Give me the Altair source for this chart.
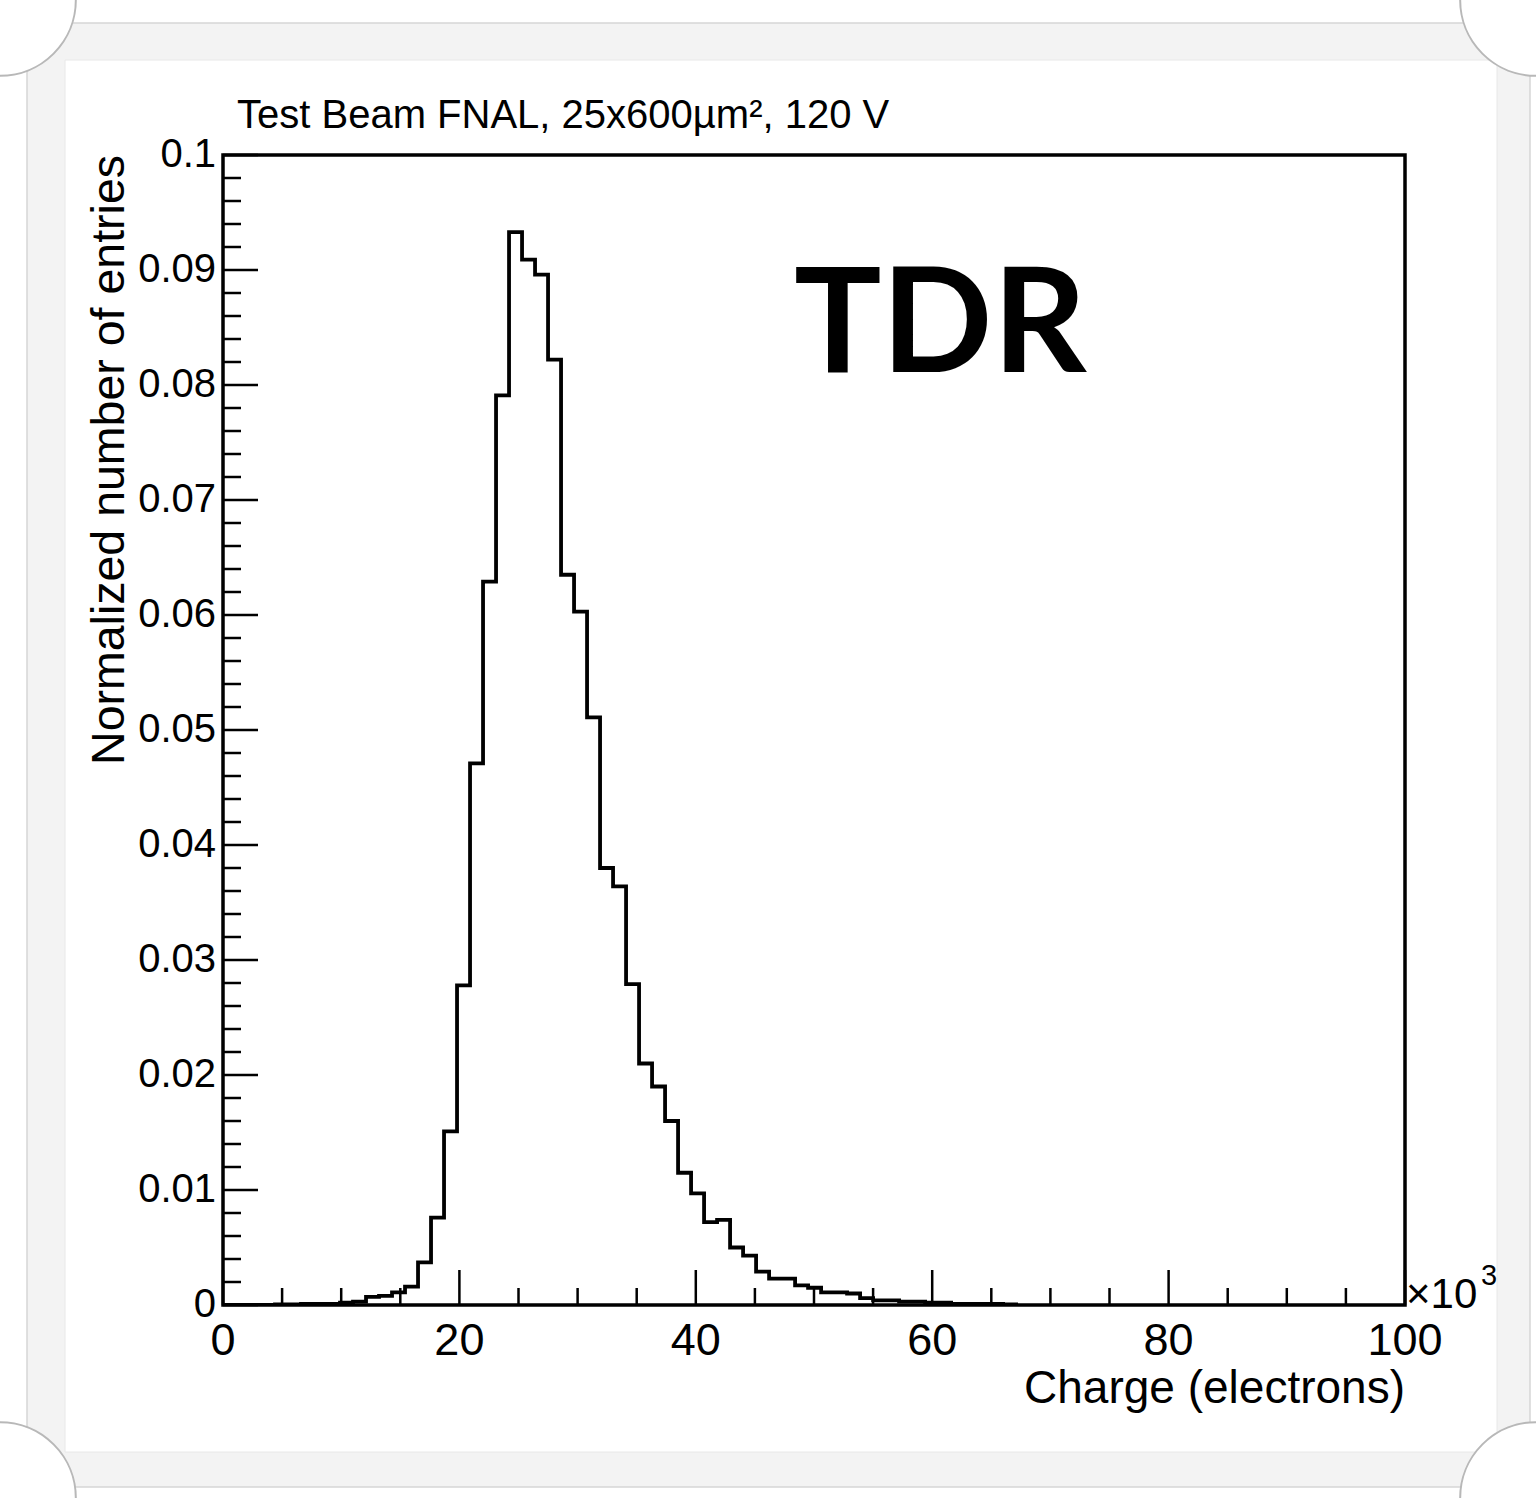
import altair as alt
import pandas as pd

# ---- data (charge in 10^3 electrons) ----
bin_width = 1.1
counts = [0, 0, 0, 0, 0.00005, 0.00005, 0.0001, 0.0001, 0.0001, 0.0002,
          0.0003, 0.0007, 0.0008, 0.0011, 0.0016, 0.0037, 0.0076, 0.0151, 0.0278, 0.0471,
          0.0629, 0.0791, 0.0933, 0.0909, 0.0896, 0.0822, 0.0635, 0.0603, 0.0511, 0.0380,
          0.0364, 0.0279, 0.0210, 0.0190, 0.0160, 0.0115, 0.0097, 0.0072, 0.0074, 0.0050,
          0.0043, 0.0029, 0.0023, 0.0023, 0.0017, 0.0015, 0.0011, 0.0011, 0.0010, 0.0006,
          0.0004, 0.0004, 0.0003, 0.0003, 0.0002, 0.0002, 0.0001, 0.0001, 0.0001, 0.0001,
          0.00005, 0]
x_labels = [0, 20, 40, 60, 80, 100]
x_minor = [5, 10, 15, 25, 30, 35, 45, 50, 55, 65, 70, 75, 85, 90, 95]
y_labels = [0, 0.01, 0.02, 0.03, 0.04, 0.05, 0.06, 0.07, 0.08, 0.09, 0.1]
y_minor = [round(i * 0.002, 3) for i in range(51) if i % 5]

title_text = "Test Beam FNAL, 25x600µm², 120 V"
x_title = "Charge (electrons)"
y_title = "Normalized number of entries"

W, H = 1182, 1150
FONT = "Liberation Sans"

edges = [round(bin_width * k, 3) for k in range(len(counts))]
hist = pd.DataFrame({"charge": edges, "frac": counts})

xs = alt.Scale(domain=[0, 100], nice=False, zero=False)
ys = alt.Scale(domain=[0, 0.1], nice=False)

# ---- decorative photo frame ----
deco = pd.DataFrame({"k": [0]})
outer = alt.Chart(deco).mark_rect(fill="#f3f3f3", stroke="#d6d6d6", strokeWidth=1.5).encode(
    x=alt.value(-196), x2=alt.value(1307), y=alt.value(-132), y2=alt.value(1332))
inner = alt.Chart(deco).mark_rect(fill="white", stroke="#e8e8e8", strokeWidth=1).encode(
    x=alt.value(-158), x2=alt.value(1274), y=alt.value(-95), y2=alt.value(1297))
corners = []
for cx, cy in [(-223, -155), (1313, -155), (-223, 1343), (1313, 1343)]:
    corners.append(alt.Chart(deco).mark_point(shape="circle", filled=True, fill="white",
                                              stroke="#b8b8b8", strokeWidth=2, size=23000, opacity=1).encode(
        x=alt.value(cx), y=alt.value(cy)))

# plot frame
frame = alt.Chart(deco).mark_rect(fill="white", fillOpacity=0, stroke="black", strokeWidth=3.5).encode(
    x=alt.value(0), x2=alt.value(W), y=alt.value(0), y2=alt.value(H))

# ---- ticks drawn inward (ROOT style) ----
def xticks(vals, length):
    return alt.Chart(pd.DataFrame({"v": vals})).mark_rule(color="black", strokeWidth=2.5).encode(
        x=alt.X("v:Q", scale=xs, axis=None), y=alt.value(H), y2=alt.value(H - length))

def yticks(vals, length):
    return alt.Chart(pd.DataFrame({"v": vals})).mark_rule(color="black", strokeWidth=2.5).encode(
        y=alt.Y("v:Q", scale=ys, axis=None), x=alt.value(0), x2=alt.value(length))

# ---- tick labels as text marks placed through the scales ----
xlab = alt.Chart(pd.DataFrame({"v": x_labels})).mark_text(
    font=FONT, fontSize=45, align="center", baseline="alphabetic", color="black").encode(
    x=alt.X("v:Q", scale=xs, axis=None), y=alt.value(H + 50),
    text=alt.Text("v:Q", format="d"))
ylab = alt.Chart(pd.DataFrame({"v": y_labels})).mark_text(
    font=FONT, fontSize=40, align="right", baseline="middle", color="black").encode(
    y=alt.Y("v:Q", scale=ys, axis=None), x=alt.value(-7),
    text=alt.Text("v:Q", format=".2~f"))

line = alt.Chart(hist).mark_line(interpolate="step-after", color="black", strokeWidth=3.8, clip=True).encode(
    x=alt.X("charge:Q", scale=xs, axis=None),
    y=alt.Y("frac:Q", scale=ys, axis=None),
)

ytitle = alt.Chart(deco).mark_text(text=y_title, font=FONT, fontSize=46.5, angle=270, align="right",
                                   baseline="alphabetic", color="black").encode(
    x=alt.value(-99), y=alt.value(0))
xtitle = alt.Chart(deco).mark_text(text=x_title, font=FONT, fontSize=46, align="right",
                                   baseline="alphabetic", color="black").encode(
    x=alt.value(W), y=alt.value(1248))
title = alt.Chart(deco).mark_text(text=title_text, font=FONT, fontSize=40, align="left",
                                  baseline="alphabetic", color="black").encode(
    x=alt.value(14), y=alt.value(-27))
exp = alt.Chart(deco).mark_text(text="×10", font=FONT, fontSize=42, align="left",
                                baseline="alphabetic", color="black").encode(
    x=alt.value(1183), y=alt.value(1153))
exp3 = alt.Chart(deco).mark_text(text="3", font=FONT, fontSize=29, align="left",
                                 baseline="alphabetic", color="black").encode(
    x=alt.value(1258), y=alt.value(1130))
tdr = alt.Chart(deco).mark_text(text="TDR", font="Lato", fontSize=146, fontWeight="bold", align="left",
                                baseline="alphabetic", color="black").encode(
    x=alt.value(571), y=alt.value(217))

chart = alt.layer(
    outer, inner, *corners, frame,
    xticks(x_labels, 35), xticks(x_minor, 17),
    yticks(y_labels, 35), yticks(y_minor, 18),
    line, xlab, ylab, xtitle, ytitle, title, exp, exp3, tdr,
).properties(
    width=W, height=H,
    padding={"left": 223, "top": 155, "right": 131, "bottom": 193},
    autosize=alt.AutoSizeParams(type="none"),
    background="white",
).configure_view(stroke=None)

chart.save("out.html", embed_options={"renderer": "svg", "actions": False})
